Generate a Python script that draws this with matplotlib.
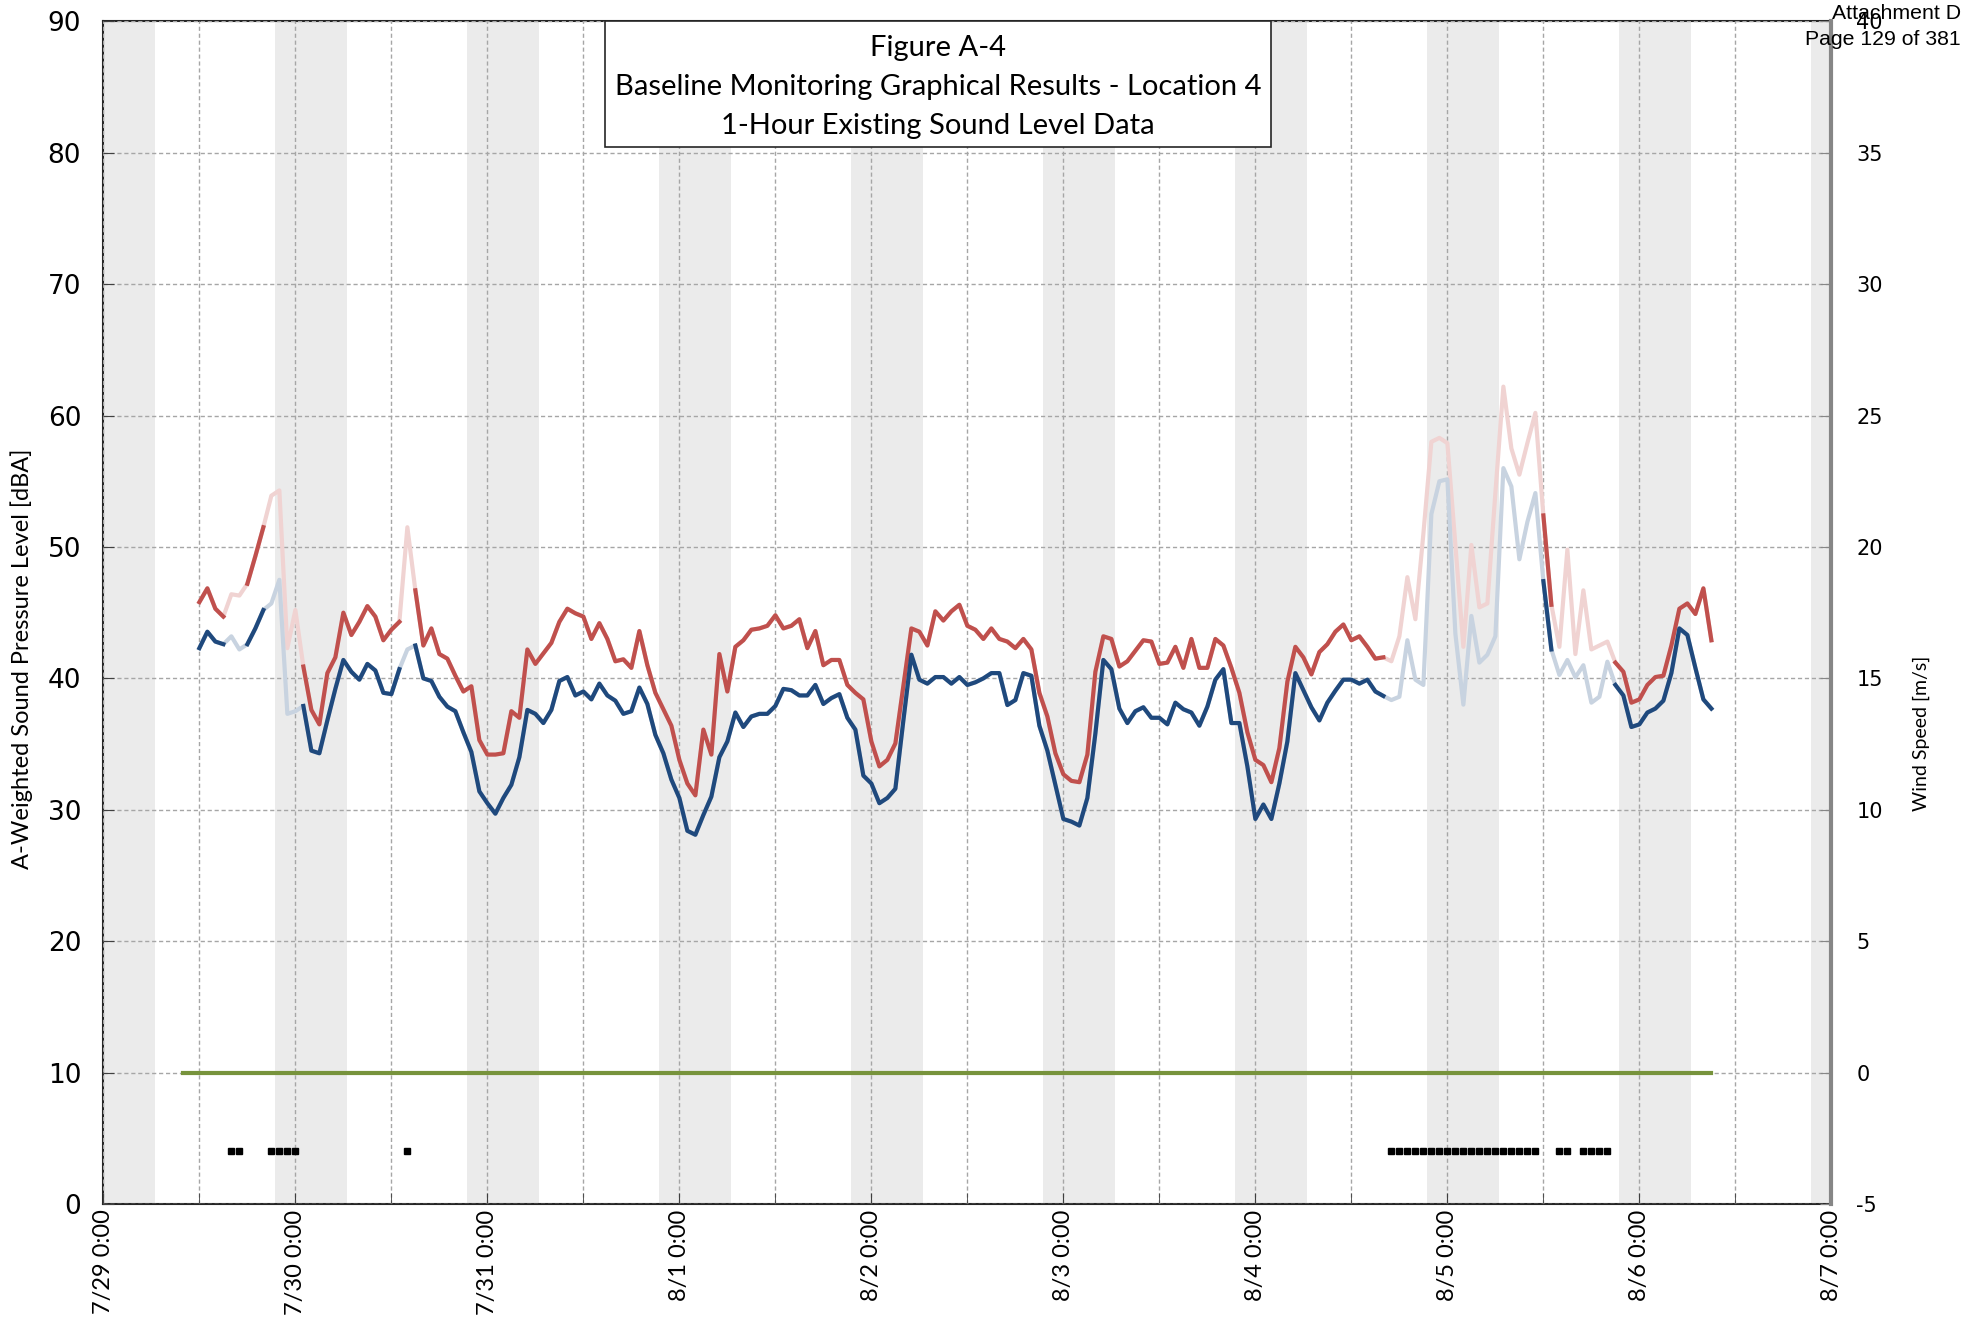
import numpy as np
import matplotlib
matplotlib.use('Agg')
import matplotlib.pyplot as plt
from matplotlib.patches import Rectangle

plt.rcParams['axes.unicode_minus'] = False

# hourly data, x = hours since 7/29 0:00
hours = np.arange(12, 202)

# upper (red) sound level series, dBA
red_level = [
    45.8, 46.85, 45.3, 44.7, 46.4, 46.3, 47.2, 49.3, 51.5, 53.9, 54.3, 42.3,
    45.2, 40.9, 37.6, 36.5, 40.4, 41.6, 45.0, 43.3, 44.3, 45.5, 44.7, 42.9,
    43.7, 44.3, 51.5, 46.7, 42.5, 43.8, 41.85, 41.5, 40.2, 39.0, 39.4, 35.3,
    34.2, 34.2, 34.3, 37.5, 37.0, 42.2, 41.1, 41.9, 42.7, 44.3, 45.3, 44.95,
    44.7, 43.0, 44.2, 43.0, 41.3, 41.45, 40.8, 43.6, 41.0, 38.9, 37.65, 36.4,
    33.8, 32.0, 31.1, 36.1, 34.2, 41.85, 39.0, 42.4, 42.9, 43.7, 43.8, 44.0,
    44.8, 43.8, 44.0, 44.5, 42.3, 43.6, 41.0, 41.4, 41.4, 39.5, 38.9, 38.4,
    35.2, 33.3, 33.8, 35.05, 39.4, 43.8, 43.55, 42.5, 45.1, 44.4, 45.1, 45.6,
    44.0, 43.7, 43.0, 43.8, 43.0, 42.8, 42.3, 43.0, 42.2, 38.9, 37.1, 34.3,
    32.7, 32.2, 32.1, 34.2, 40.5, 43.2, 43.0, 40.9, 41.3, 42.1, 42.9, 42.8,
    41.1, 41.2, 42.4, 40.8, 43.0, 40.8, 40.8, 43.0, 42.5, 40.8, 38.9, 35.9,
    33.8, 33.4, 32.1, 34.7, 39.75, 42.4, 41.6, 40.3, 42.0, 42.6, 43.55, 44.1,
    42.9, 43.2, 42.4, 41.5, 41.6, 41.3, 43.2, 47.7, 44.5, 51.0, 58.0, 58.3,
    57.9, 50.1, 42.4, 50.15, 45.4, 45.7, 54.1, 62.2, 57.5, 55.5, 57.9, 60.2,
    52.4, 45.6, 42.4, 49.8, 41.85, 46.7, 42.2, 42.5, 42.8, 41.2, 40.5, 38.15,
    38.4, 39.5, 40.1, 40.2, 42.5, 45.3, 45.7, 44.9, 46.85, 42.9,
]

# lower (blue) sound level series, dBA
blue_level = [
    42.3, 43.55, 42.8, 42.6, 43.2, 42.2, 42.6, 43.8, 45.2, 45.7, 47.5, 37.3,
    37.5, 37.9, 34.5, 34.3, 36.8, 39.2, 41.4, 40.5, 39.9, 41.1, 40.6, 38.9,
    38.8, 40.7, 42.2, 42.5, 40.0, 39.8, 38.6, 37.85, 37.5, 35.9, 34.4, 31.4,
    30.5, 29.7, 30.9, 31.9, 34.0, 37.6, 37.3, 36.6, 37.6, 39.8, 40.1, 38.7,
    39.0, 38.4, 39.6, 38.7, 38.3, 37.3, 37.5, 39.3, 38.05, 35.7, 34.3, 32.3,
    30.9, 28.4, 28.1, 29.6, 31.0, 34.0, 35.2, 37.4, 36.3, 37.1, 37.3, 37.3,
    37.9, 39.2, 39.1, 38.7, 38.7, 39.5, 38.05, 38.5, 38.8, 37.0, 36.1, 32.6,
    32.0, 30.5, 30.9, 31.6, 36.8, 41.8, 39.9, 39.6, 40.1, 40.1, 39.6, 40.1,
    39.5, 39.7, 40.0, 40.4, 40.4, 37.97, 38.35, 40.4, 40.2, 36.4, 34.5, 31.9,
    29.3, 29.1, 28.8, 30.9, 35.8, 41.4, 40.7, 37.7, 36.6, 37.5, 37.8, 37.0,
    37.0, 36.5, 38.15, 37.65, 37.4, 36.4, 37.85, 39.9, 40.7, 36.6, 36.6, 33.3,
    29.3, 30.4, 29.3, 32.0, 35.2, 40.4, 39.1, 37.8, 36.8, 38.15, 39.06, 39.9,
    39.9, 39.6, 39.9, 39.0, 38.66, 38.35, 38.6, 42.9, 39.9, 39.5, 52.5, 55.0,
    55.15, 43.4, 38.0, 44.75, 41.2, 41.8, 43.2, 56.0, 54.6, 49.06, 51.9, 54.1,
    47.4, 42.2, 40.26, 41.4, 40.08, 41.0, 38.15, 38.6, 41.27, 39.5, 38.7, 36.3,
    36.5, 37.4, 37.7, 38.3, 40.4, 43.8, 43.3, 40.8, 38.4, 37.7,
]

# hours flagged (precipitation) -> data excluded, shown faded + black square
flagged_hours = [16, 17, 21, 22, 23, 24, 38,
                 161, 162, 163, 164, 165, 166, 167, 168, 169, 170, 171, 172,
                 173, 174, 175, 176, 177, 178, 179,
                 182, 183, 185, 186, 187, 188]

# wind speed record (m/s), calm over the whole period
wind_hours = [10, 201]
wind_speed = [0, 0]

# nighttime hours (22:00 - 6:00), first and last hour of each night
night_first = [-2, 22, 46, 70, 94, 118, 142, 166, 190, 214]
night_last = [6, 30, 54, 78, 102, 126, 150, 174, 198, 222]

day_labels = ['7/29 0:00', '7/30 0:00', '7/31 0:00', '8/1 0:00', '8/2 0:00',
              '8/3 0:00', '8/4 0:00', '8/5 0:00', '8/6 0:00', '8/7 0:00']

title_lines = ['Figure A-4',
               'Baseline Monitoring Graphical Results - Location 4',
               '1-Hour Existing Sound Level Data']

RED = '#C0504D'
BLUE = '#1F497D'
RED_FADE = '#F0D3D2'
BLUE_FADE = '#C8D3E0'
GREEN = '#77933C'
GRID = '#A6A6A6'
CAL = ['Lato', 'DejaVu Sans']

red_level = np.array(red_level)
blue_level = np.array(blue_level)
flag = np.isin(hours, flagged_hours)
red_ok = np.where(flag, np.nan, red_level)
blue_ok = np.where(flag, np.nan, blue_level)

fig = plt.figure(figsize=(19.65, 13.31), dpi=100)
ax = fig.add_axes([0.0526, 0.0954, 0.8794, 0.8886])

# night shading
for a, b in zip(night_first, night_last):
    ax.axvspan(a - 0.5, b + 0.5, color='#EBEBEB', lw=0, zorder=0)

ax.set_xlim(0, 216)
ax.set_ylim(0, 90)
ax.set_xticks(np.arange(0, 217, 24))
ax.set_xticks(np.arange(12, 217, 24), minor=True)
ax.set_xticklabels(day_labels, rotation=90, fontsize=17, family=CAL)
ax.set_yticks(np.arange(0, 91, 10))
ax.tick_params(axis='y', labelsize=19, direction='in', length=8, color='#404040', pad=16)
ax.tick_params(axis='x', which='both', direction='in', length=8, color='#404040', pad=4)
ax.grid(True, which='both', axis='x', ls=(0, (3, 2)), color=GRID, lw=1, zorder=1)
ax.grid(True, which='major', axis='y', ls=(0, (3, 2)), color=GRID, lw=1, zorder=1)
ax.set_axisbelow(False)

lw = 3
ax.plot(hours, red_level, color=RED_FADE, lw=lw, zorder=3)
ax.plot(hours, blue_level, color=BLUE_FADE, lw=lw, zorder=3)
ax.plot(hours, red_ok, color=RED, lw=lw, zorder=4)
ax.plot(hours, blue_ok, color=BLUE, lw=lw, zorder=4)

ax.plot(flagged_hours, [4] * len(flagged_hours), ls='none', marker='s',
        ms=4.2, color='black', zorder=5)

ax.set_ylabel('A-Weighted Sound Pressure Level [dBA]', fontsize=17, family=CAL)
ax.yaxis.set_label_coords(-0.041, 0.461)

for s in ['left', 'top', 'bottom']:
    ax.spines[s].set_color('#262626')
    ax.spines[s].set_linewidth(1.5)
ax.spines['right'].set_visible(False)

ax2 = ax.twinx()
ax2.set_ylim(-5, 40)
ax2.set_yticks(np.arange(-5, 41, 5))
ax2.plot(wind_hours, wind_speed, color=GREEN, lw=3, zorder=4)
ax2.tick_params(axis='y', labelsize=15, direction='in', length=8, color='#868686', pad=18)
for s in ['left', 'top', 'bottom']:
    ax2.spines[s].set_visible(False)
ax2.spines['right'].set_color('#868686')
ax2.spines['right'].set_linewidth(3)
ax2.set_ylabel('Wind Speed [m/s]', fontsize=14, family=CAL)
ax2.yaxis.set_label_coords(1.047, 0.398)

# title box
ax2.add_patch(Rectangle((0.2903, 0.894), 0.3854, 0.106, transform=ax.transAxes,
                        facecolor='white', edgecolor='#262626', lw=1.2, zorder=6))
for txt, yy in zip(title_lines, [0.9775, 0.9447, 0.9118]):
    ax2.text(0.483, yy, txt, transform=ax.transAxes, ha='center', va='center',
             fontsize=21, family=CAL, zorder=7)

fig.text(0.998, 0.9895, 'Attachment D', ha='right', va='center', fontsize=15.3,
         family='Liberation Sans')
fig.text(0.998, 0.9705, 'Page 129 of 381', ha='right', va='center', fontsize=15.3,
         family='Liberation Sans')

fig.savefig('out.png', dpi=100)
